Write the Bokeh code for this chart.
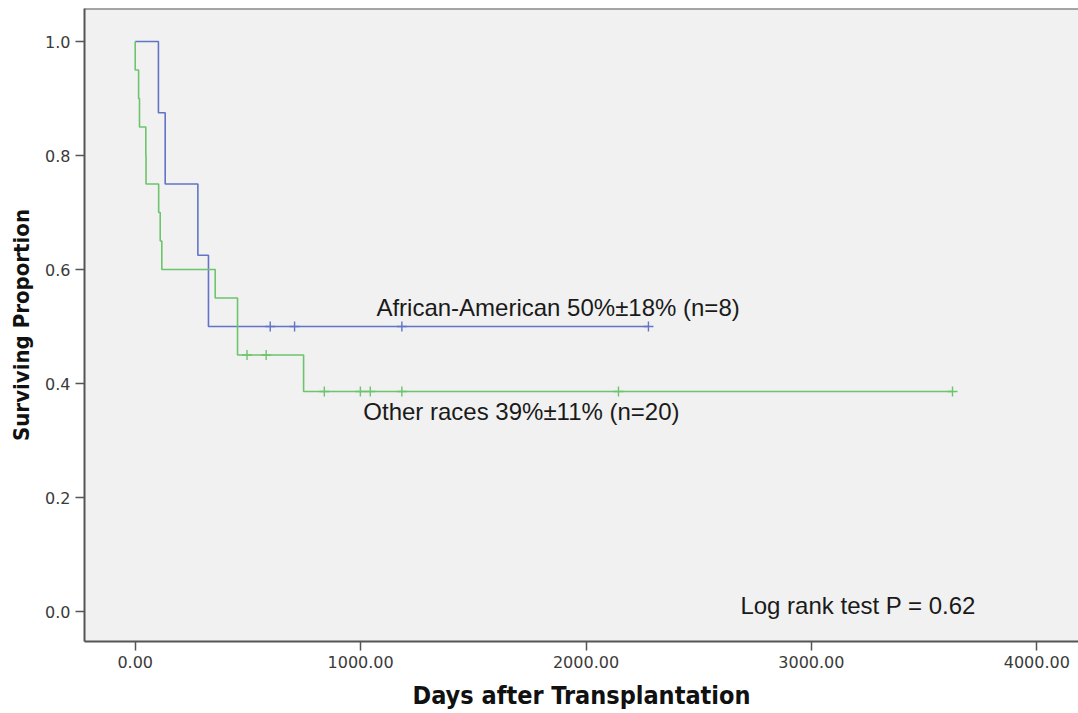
from bokeh.plotting import figure
from bokeh.models import Range1d, Label, Span, FixedTicker, NumeralTickFormatter
from bokeh.embed import file_html
from bokeh.resources import INLINE

# Kaplan-Meier steps (days, surviving proportion)
aa_times = [0, 103, 133, 278, 325, 2277]
aa_surv = [1.0, 0.875, 0.75, 0.625, 0.5, 0.5]
aa_censor_times = [599, 707, 1183, 2277]
aa_censor_surv = [0.5, 0.5, 0.5, 0.5]

other_times = [0, 0, 15, 19, 47, 48, 104, 111, 118, 355, 454, 747, 3626]
other_surv = [1.0, 0.95, 0.90, 0.85, 0.80, 0.75, 0.70, 0.65, 0.60, 0.55, 0.45, 0.386, 0.386]
other_censor_times = [496, 581, 839, 999, 1043, 1183, 2144, 3626]
other_censor_surv = [0.45, 0.45, 0.386, 0.386, 0.386, 0.386, 0.386, 0.386]

x_ticks = [0, 1000, 2000, 3000, 4000]
y_ticks = [0.0, 0.2, 0.4, 0.6, 0.8, 1.0]

aa_label = "African-American 50%\u00b118% (n=8)"
other_label = "Other races 39%\u00b111% (n=20)"
test_label = "Log rank test P = 0.62"

BLUE = "#6274c6"
GREEN = "#6cc46c"
AXIS = "#555555"

p = figure(width=1078, height=713, output_backend="svg", toolbar_location=None,
           x_range=Range1d(-225, 4185), y_range=Range1d(-0.0526, 1.058))
p.min_border_left = 84
p.min_border_right = 0
p.min_border_top = 8
p.min_border_bottom = 72
p.background_fill_color = "#f1f1f1"
p.border_fill_color = "white"
p.outline_line_color = None
p.grid.visible = False

p.step(aa_times, aa_surv, mode="after", line_color=BLUE, line_width=1.6)
p.step(other_times, other_surv, mode="after", line_color=GREEN, line_width=1.6)
p.scatter(aa_censor_times, aa_censor_surv, marker="cross", size=10,
          line_color=BLUE, line_width=1.4)
p.scatter(other_censor_times, other_censor_surv, marker="cross", size=10,
          line_color=GREEN, line_width=1.4)

# top frame edge
p.add_layout(Span(location=1.058, dimension="width", line_color=AXIS, line_width=2))

for ax in (p.xaxis[0], p.yaxis[0]):
    ax.axis_line_color = AXIS
    ax.axis_line_width = 2
    ax.major_tick_line_color = AXIS
    ax.major_tick_line_width = 1.5
    ax.major_tick_in = 0
    ax.major_tick_out = 9
    ax.minor_tick_line_color = None
    ax.major_label_text_font = "DejaVu Sans"
    ax.major_label_text_font_size = "16px"
    ax.major_label_text_color = "#3a3a3a"
    ax.axis_label_text_font = "DejaVu Sans Condensed"
    ax.axis_label_text_font_style = "bold"
    ax.axis_label_text_color = "#111111"

p.xaxis[0].ticker = FixedTicker(ticks=x_ticks)
p.xaxis[0].formatter = NumeralTickFormatter(format="0.00")
p.xaxis[0].major_label_standoff = 5
p.xaxis[0].axis_label = "Days after Transplantation"
p.xaxis[0].axis_label_text_font_size = "25px"
p.xaxis[0].axis_label_standoff = 10

p.yaxis[0].ticker = FixedTicker(ticks=y_ticks)
p.yaxis[0].formatter = NumeralTickFormatter(format="0.0")
p.yaxis[0].major_label_standoff = 5
p.yaxis[0].axis_label = "Surviving Proportion"
p.yaxis[0].axis_label_text_font_size = "22px"
p.yaxis[0].axis_label_standoff = 8

for txt, x, y in [(aa_label, 1070, 0.533), (other_label, 1012, 0.351), (test_label, 2685, 0.0105)]:
    p.add_layout(Label(x=x, y=y, text=txt, text_font="Liberation Sans",
                       text_font_size="24px", text_color="#1a1a1a",
                       text_baseline="middle", text_align="left"))

open("out.html", "w").write(file_html(p, INLINE))
